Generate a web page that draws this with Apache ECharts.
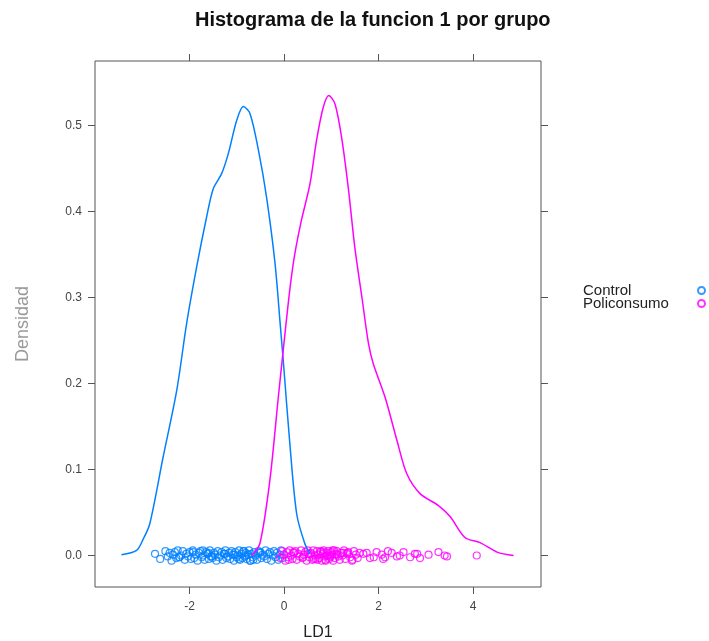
<!DOCTYPE html>
<html>
<head>
<meta charset="utf-8">
<script src="https://cdn.jsdelivr.net/npm/echarts@6/dist/echarts.min.js"></script>
<style>html,body{margin:0;padding:0;background:#fff;}#c{width:709px;height:641px;}</style>
</head>
<body>
<div id="c"></div>
<script>
var groups = ['Control', 'Policonsumo'];
var colors = ['#0080ff', '#ff00ff'];
var xTicks = [-2, 0, 2, 4];
var yTicks = [0, 0.1, 0.2, 0.3, 0.4, 0.5];

var controlDensity = [[-3.44,0.001],[-3.12,0.006],[-2.98,0.019],[-2.84,0.037],[-2.56,0.114],[-2.27,0.192],[-2.06,0.27],[-1.85,0.335],[-1.64,0.393],[-1.50,0.426],[-1.32,0.444],[-1.18,0.467],[-1.00,0.506],[-0.86,0.522],[-0.72,0.514],[-0.54,0.471],[-0.37,0.417],[-0.19,0.34],[-0.08,0.269],[-0.01,0.223],[0.13,0.126],[0.27,0.048],[0.44,0.014],[0.55,0.002]];
var policonsumoDensity = [[-0.68,0.0],[-0.51,0.014],[-0.30,0.087],[-0.12,0.184],[-0.01,0.242],[0.13,0.312],[0.23,0.351],[0.37,0.39],[0.55,0.432],[0.69,0.483],[0.83,0.521],[0.95,0.535],[1.08,0.525],[1.22,0.486],[1.36,0.428],[1.50,0.358],[1.65,0.30],[1.79,0.246],[1.89,0.223],[2.14,0.184],[2.39,0.134],[2.60,0.095],[2.88,0.072],[3.27,0.058],[3.52,0.045],[3.83,0.021],[4.15,0.015],[4.51,0.004],[4.86,0.0]];

var controlX = [-2.73,-2.62,-2.51,-2.46,-2.42,-2.38,-2.35,-2.31,-2.28,-2.25,
-2.21,-2.18,-2.14,-2.10,-2.07,-2.03,-2.00,-1.97,-1.93,-1.90,
-1.87,-1.83,-1.80,-1.77,-1.74,-1.71,-1.68,-1.65,-1.62,-1.59,
-1.57,-1.54,-1.51,-1.48,-1.46,-1.43,-1.40,-1.38,-1.35,-1.32,
-1.30,-1.27,-1.24,-1.22,-1.19,-1.16,-1.14,-1.11,-1.08,-1.06,
-1.03,-1.00,-0.98,-0.95,-0.93,-0.90,-0.88,-0.86,-0.83,-0.81,
-0.79,-0.76,-0.74,-0.71,-0.69,-0.66,-0.63,-0.60,-0.57,-0.54,
-0.51,-0.48,-0.45,-0.42,-0.39,-0.36,-0.33,-0.30,-0.27,-0.24,
-0.21,-0.18,-0.15,-0.12,-0.09,-0.06,-0.03,-1.92,-1.52,-1.25,
-0.96,-0.85,-0.80,-0.72,-1.60,-2.22,-1.72,-1.05,-0.65,-0.50];
var controlJitter = [0.002,-0.004,0.005,-0.001,0.003,-0.006,0.001,0.004,-0.003,0.006,
-0.002,0.000,0.005,-0.005,0.002,-0.001,0.004,-0.004,0.006,-0.003,
0.001,-0.006,0.003,0.005,-0.002,0.000,-0.005,0.004,0.002,-0.004,
0.006,-0.001,-0.003,0.003,0.001,-0.006,0.005,-0.002,0.000,0.004,
-0.005,0.002,0.006,-0.003,-0.001,0.003,-0.004,0.005,0.001,-0.006,
0.004,-0.002,0.000,0.006,-0.005,0.002,-0.003,0.005,-0.001,0.003,
-0.004,0.001,0.006,-0.006,0.002,-0.002,0.004,0.000,-0.005,0.005,
0.003,-0.003,0.001,-0.001,0.006,-0.004,0.002,0.004,-0.006,0.000,
0.005,-0.002,0.003,-0.005,0.001,0.006,-0.003,0.004,-0.001,0.002,
-0.004,0.005,0.000,-0.006,0.003,-0.002,0.006,0.001,-0.005,0.004];

var policonsumoX = [-0.08,-0.04,0.00,0.03,0.06,0.09,0.12,0.15,0.18,0.21,
0.24,0.27,0.30,0.33,0.36,0.39,0.42,0.45,0.48,0.51,
0.54,0.57,0.60,0.62,0.65,0.67,0.70,0.72,0.75,0.77,
0.80,0.82,0.84,0.86,0.88,0.90,0.92,0.94,0.96,0.98,
1.00,1.02,1.04,1.06,1.08,1.10,1.12,1.15,1.18,1.21,
1.24,1.27,1.30,1.33,1.36,1.40,1.44,1.48,1.52,1.56,
1.60,0.71,0.83,0.91,0.97,1.03,0.55,0.63,0.78,0.88,
1.13,1.25,0.40,0.20,1.45,1.68,1.82,1.96,2.07,2.14,
2.28,2.39,2.53,2.67,2.77,2.88,3.06,3.27,3.45,4.08,
2.10,2.20,1.75,1.90,2.45,2.82,3.40,0.10,0.50,1.35];
var policonsumoJitter = [-0.003,0.005,0.001,-0.006,0.004,-0.002,0.006,0.000,-0.004,0.003,
0.005,-0.005,0.002,-0.001,0.006,-0.003,0.001,0.004,-0.006,0.002,
-0.002,0.003,-0.005,0.006,0.000,-0.004,0.005,0.001,-0.003,0.004,
-0.006,0.002,0.006,-0.001,-0.005,0.003,0.000,0.005,-0.004,-0.002,
0.004,0.001,-0.006,0.006,-0.003,0.002,0.005,-0.001,-0.005,0.003,
0.000,0.006,-0.004,0.002,0.004,-0.002,-0.006,0.005,0.001,-0.003,
0.003,-0.005,0.004,0.000,-0.001,0.006,0.002,-0.004,0.005,-0.006,
0.001,0.003,-0.002,0.004,-0.005,0.002,-0.003,0.004,0.001,-0.002,
0.003,-0.001,0.004,-0.002,0.002,-0.003,0.001,0.004,-0.001,0.000,
-0.004,0.005,0.003,-0.002,0.000,0.002,0.000,-0.005,0.006,0.003];

function pts(xs, js) { return xs.map(function (x, i) { return [x, js[i]]; }); }

var FONT = 'Liberation Sans, Arial, Helvetica, sans-serif';
var chart = echarts.init(document.getElementById('c'), null, { renderer: 'canvas' });
var axisCol = '#555';
var lblStyle = { color: '#444', fontSize: 12, fontFamily: FONT };
var option = {
  animation: false,
  backgroundColor: '#fff',
  title: {
    text: 'Histograma de la funcion 1 por grupo',
    left: 190, top: 5,
    textStyle: { fontSize: 20, fontWeight: 'bold', color: '#111', fontFamily: FONT }
  },
  legend: {
    data: groups,
    orient: 'vertical',
    left: 578, top: 278,
    align: 'right',
    itemWidth: 7, itemHeight: 7, itemGap: -2,
    formatter: function (name) { return '{t|' + name + '}'; },
    textStyle: {
      color: '#222', fontSize: 15, lineHeight: 13, fontFamily: FONT,
      rich: { t: { width: 110, height: 13, align: 'left', fontSize: 15, lineHeight: 13, color: '#222', fontFamily: FONT } }
    }
  },
  grid: { left: 95, right: 168, top: 61, bottom: 54, outerBoundsMode: 'none', containLabel: false,
    show: true, borderColor: axisCol, borderWidth: 1, backgroundColor: 'transparent' },
  xAxis: [{
    type: 'value', position: 'bottom', min: -4, max: 5.44,
    name: 'LD1', nameLocation: 'middle', nameGap: 38,
    nameTextStyle: { fontSize: 16, color: '#222', fontFamily: FONT },
    axisLine: { show: false, onZero: false },
    axisTick: { show: true, inside: false, length: 7, customValues: xTicks, lineStyle: { color: axisCol } },
    axisLabel: Object.assign({ customValues: xTicks, margin: 14 }, lblStyle),
    splitLine: { show: false }
  }, {
    type: 'value', position: 'top', min: -4, max: 5.44,
    axisLine: { show: false, onZero: false },
    axisTick: { show: true, length: 7, customValues: xTicks, lineStyle: { color: axisCol } },
    axisLabel: { show: false }, splitLine: { show: false }
  }],
  yAxis: [{
    type: 'value', position: 'left', min: -0.0366, max: 0.575,
    name: 'Densidad', nameLocation: 'middle', nameGap: 63, nameRotate: 90,
    nameTextStyle: { fontSize: 18, color: '#999', fontFamily: FONT },
    axisLine: { show: false, onZero: false },
    axisTick: { show: true, length: 7, customValues: yTicks, lineStyle: { color: axisCol } },
    axisLabel: Object.assign({ customValues: yTicks, margin: 13, formatter: function (v) { return v.toFixed(1); } }, lblStyle),
    splitLine: { show: false }
  }, {
    type: 'value', position: 'right', min: -0.0366, max: 0.575,
    axisLine: { show: false, onZero: false },
    axisTick: { show: true, length: 7, customValues: yTicks, lineStyle: { color: axisCol } },
    axisLabel: { show: false }, splitLine: { show: false }
  }],
  series: [
    { name: 'Control densidad', type: 'line', data: controlDensity, smooth: 0.3, showSymbol: false,
      lineStyle: { color: colors[0], width: 1.5 }, xAxisIndex: 0, yAxisIndex: 0 },
    { name: 'Policonsumo densidad', type: 'line', data: policonsumoDensity, smooth: 0.3, showSymbol: false,
      lineStyle: { color: colors[1], width: 1.5 }, xAxisIndex: 0, yAxisIndex: 0 },
    { name: groups[0], type: 'scatter', data: pts(controlX, controlJitter), symbol: 'circle', symbolSize: 7,
      itemStyle: { color: 'rgba(0,0,0,0)', borderColor: colors[0], borderWidth: 1.2 } },
    { name: groups[1], type: 'scatter', data: pts(policonsumoX, policonsumoJitter), symbol: 'circle', symbolSize: 7,
      itemStyle: { color: 'rgba(0,0,0,0)', borderColor: colors[1], borderWidth: 1.2 } }
  ]
};
chart.setOption(option);
</script>
</body>
</html>
